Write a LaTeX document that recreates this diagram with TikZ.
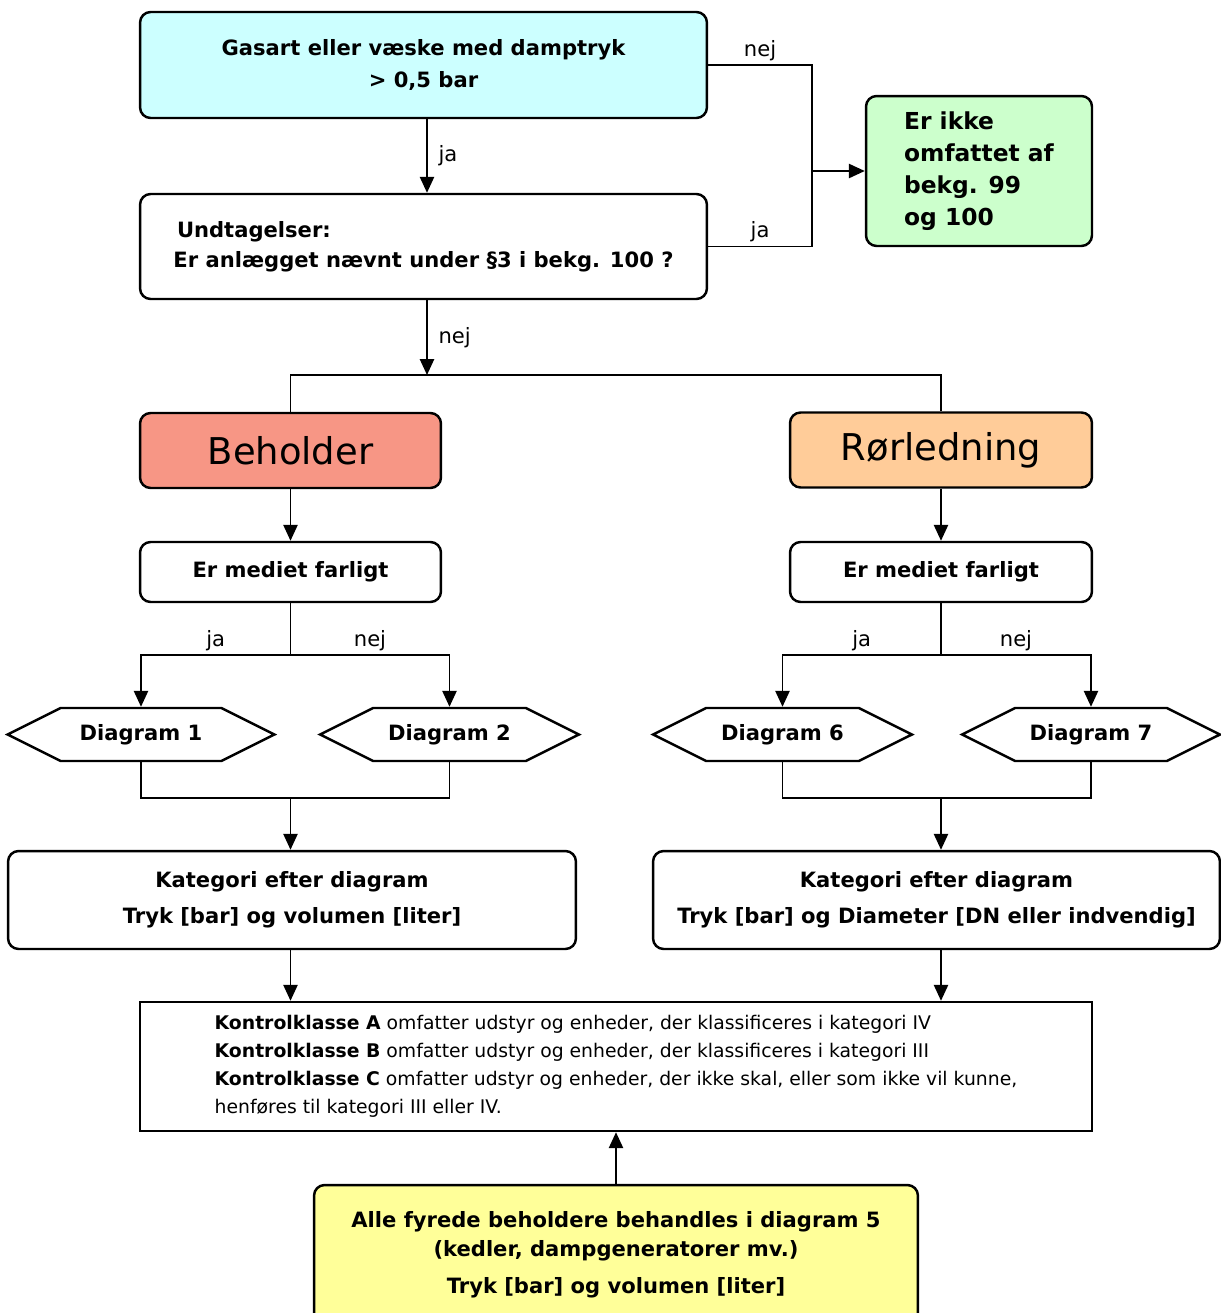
\documentclass[tikz,border=0pt]{standalone}
\usepackage{fontspec}
\setmainfont{DejaVu Sans}
\usetikzlibrary{arrows.meta,shapes.symbols}
\definecolor{gascyan}{HTML}{CCFFFF}
\definecolor{ikkegreen}{HTML}{CCFFCC}
\definecolor{beholdred}{HTML}{F79685}
\definecolor{roerorange}{HTML}{FFCC99}
\definecolor{fyryellow}{HTML}{FFFF99}
\tikzstyle{edge} = [-{Triangle[length=9pt,width=8pt]}, line width=1.1pt]
\tikzstyle{line} = [line width=1.1pt]
\tikzstyle{box} = [draw, line width=1.4pt, rounded corners=6pt, align=center, inner sep=2pt,
  font=\fontsize{12}{18}\selectfont\bfseries]
\tikzstyle{hexa} = [draw, line width=1.4pt, signal, signal to=west and east, signal pointer angle=53,
  minimum height=1.06cm, inner sep=2pt, font=\fontsize{12}{14}\selectfont\bfseries]
\tikzstyle{lbl} = [font=\fontsize{12}{14}\selectfont, inner sep=2pt]

\begin{document}
\begin{tikzpicture}[x=0.02cm, y=-0.02cm]
\clip (0,0) rectangle (1221,1313);
	\node[box, fill=gascyan, minimum width=11.34cm, minimum height=2.12cm] (gas) at (423.5,65)
		{Gasart eller væske med damptryk\\> 0,5 bar};
	\node[box, align=left, minimum width=11.34cm, minimum height=2.1cm,
		font=\fontsize{12}{17}\selectfont\bfseries] (undt) at (423.5,246.5)
		{\,Undtagelser:\\Er anlægget nævnt under §3 i bekg. 100 ?};
	\node[box, fill=ikkegreen, align=left, minimum width=4.52cm, minimum height=3cm,
		font=\fontsize{13.3}{18.2}\selectfont\bfseries] (ikke) at (979,171)
		{Er ikke\\omfattet af\\bekg. 99\\og 100};
	\coordinate (jn) at (812,171);
	\coordinate (sp) at (427,375);

	\node[box, fill=beholdred, minimum width=6.02cm, minimum height=1.5cm,
		font=\fontsize{21}{25}\selectfont] (behold) at (290.5,450.5) {Beholder};
	\node[box, fill=roerorange, minimum width=6.04cm, minimum height=1.5cm,
		font=\fontsize{21}{25}\selectfont] (roer) at (941,450) {Rørledning};
	\node[box, minimum width=6.02cm, minimum height=1.2cm] (farl1) at (290.5,572) {Er mediet farligt};
	\node[box, minimum width=6.04cm, minimum height=1.2cm] (farl2) at (941,572) {Er mediet farligt};
	\coordinate (f1) at (290.5,655);
	\coordinate (f2) at (941,655);

	\node[hexa, minimum width=5.34cm] (d1) at (141,734.5) {Diagram 1};
	\node[hexa, minimum width=5.18cm] (d2) at (449.5,734.5) {Diagram 2};
	\node[hexa, minimum width=5.18cm] (d6) at (782.5,734.5) {Diagram 6};
	\node[hexa, minimum width=5.16cm] (d7) at (1091,734.5) {Diagram 7};
	\coordinate (m1) at (290.5,798);
	\coordinate (m2) at (941,798);

	\node[box, minimum width=11.36cm, minimum height=1.96cm] (kat1) at (292,900)
		{Kategori efter diagram\\[2.5pt]Tryk [bar] og volumen [liter]};
	\node[box, minimum width=11.34cm, minimum height=1.96cm] (kat2) at (936.5,900)
		{Kategori efter diagram\\[2.5pt]Tryk [bar] og Diameter [DN eller indvendig]};
	\node[draw, line width=1.4pt, align=left, minimum width=19.04cm, minimum height=2.58cm,
		font=\fontsize{10.7}{16}\selectfont] (klasse) at (616,1066.5)
		{\textbf{Kontrolklasse A} omfatter udstyr og enheder, der klassificeres i kategori IV\\
		 \textbf{Kontrolklasse B} omfatter udstyr og enheder, der klassificeres i kategori III\\
		 \textbf{Kontrolklasse C} omfatter udstyr og enheder, der ikke skal, eller som ikke vil kunne,\\
		 henføres til kategori III eller IV.};
	\node[box, fill=fyryellow, minimum width=12.08cm, minimum height=2.8cm,
		font=\fontsize{12}{16.5}\selectfont\bfseries] (fyr) at (616,1255)
		{Alle fyrede beholdere behandles i diagram 5\\(kedler, dampgeneratorer mv.)\\[4.5pt]Tryk [bar] og volumen [liter]};

	\draw[edge] (gas.south -| sp) to node[lbl, midway, right, xshift=4pt] {ja} (undt.north -| sp);
	\draw[line] (gas.east) -| node[lbl, pos=0.25, above] {nej} (jn) |- node[lbl, pos=0.75, above] {ja} (undt.east);
	\draw[edge] (jn) to (jn -| ikke.west);
	\draw[edge] (undt.south -| sp) to node[lbl, midway, right, xshift=4pt] {nej} (sp);
	\draw[line] (behold.north) |- (sp) -| (roer.north);

	\draw[edge] (behold.south) to (farl1.north);
	\draw[edge] (roer.south) to (farl2.north);
	\draw[line] (farl1.south) to (f1);
	\draw[line] (farl2.south) to (f2);
	\draw[edge] (f1) -| node[lbl, pos=0.25, above] {ja} (d1.north);
	\draw[edge] (f1) -| node[lbl, pos=0.25, above] {nej} (d2.north);
	\draw[edge] (f2) -| node[lbl, pos=0.25, above] {ja} (d6.north);
	\draw[edge] (f2) -| node[lbl, pos=0.25, above] {nej} (d7.north);

	\draw[line] (d1.south) |- (m1) -| (d2.south);
	\draw[line] (d6.south) |- (m2) -| (d7.south);
	\draw[edge] (m1) to (m1 |- kat1.north);
	\draw[edge] (m2) to (m2 |- kat2.north);
	\draw[edge] (kat1.south -| m1) to (m1 |- klasse.north);
	\draw[edge] (kat2.south -| m2) to (m2 |- klasse.north);
	\draw[edge] (fyr.north) to (klasse.south);
\end{tikzpicture}
\end{document}
